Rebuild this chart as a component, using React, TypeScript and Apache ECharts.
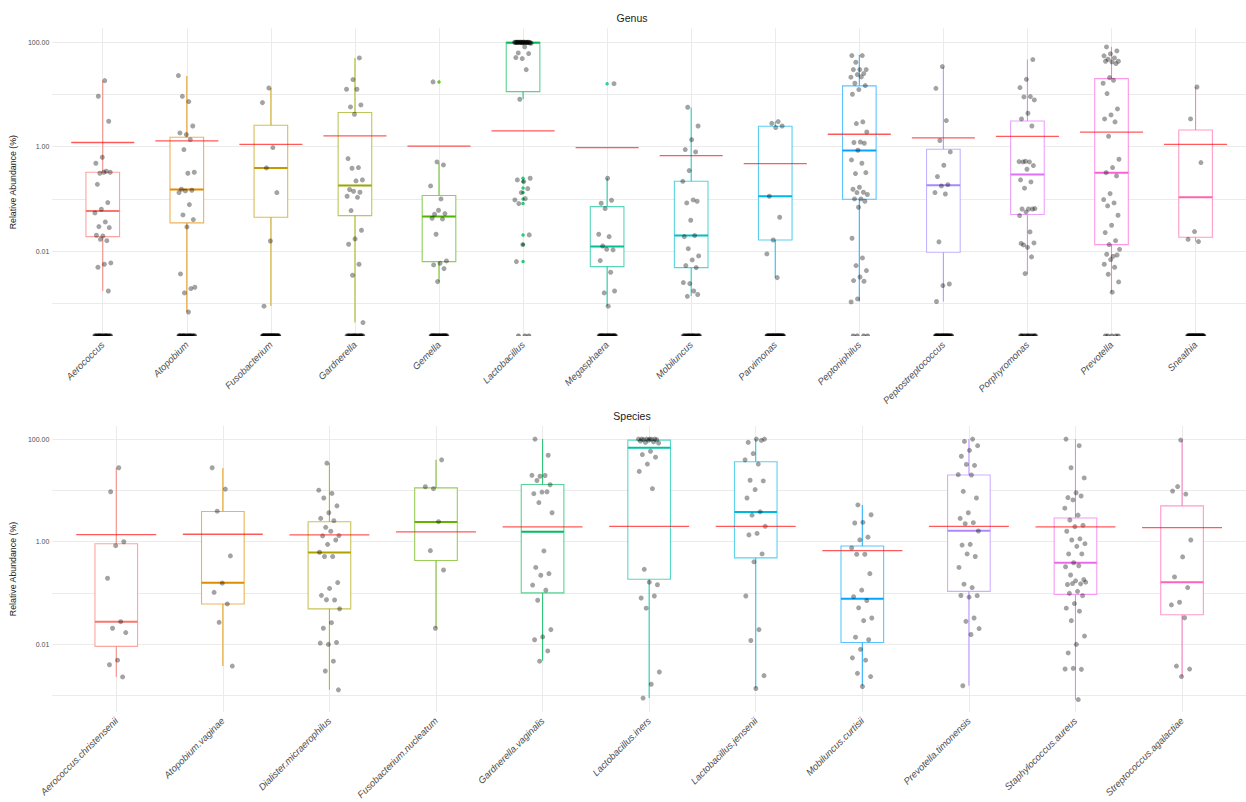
import React, { useEffect, useRef } from "react";
import * as echarts from "echarts";

// ---------------- Genus panel ----------------
const GENUS = [
  "Aerococcus", "Atopobium", "Fusobacterium", "Gardnerella", "Gemella", "Lactobacillus", "Megasphaera",
  "Mobiluncus", "Parvimonas", "Peptoniphilus", "Peptostreptococcus", "Porphyromonas", "Prevotella", "Sneathia",
];
const GENUS_COLORS = [
  "#F8766D", "#E38900", "#C49A00", "#99A800", "#53B400", "#00BC56", "#00C094",
  "#00BFC4", "#00B6EB", "#06A4FF", "#A58AFF", "#DF70F8", "#FB61D7", "#FF66A8",
];
// [lower whisker, Q1, median, Q3, upper whisker] in %
const GENUS_BOX = [
  [0.00172, 0.0189, 0.0587, 0.323, 18.2],
  [0.00069, 0.0346, 0.151, 1.51, 22.6],
  [0.00089, 0.0444, 0.392, 2.57, 13.3],
  [0.00043, 0.0478, 0.18, 4.5, 50],
  [0.0026, 0.00628, 0.0457, 0.116, 0.481],
  [8.2, 11.35, 98, 100, 100],
  [0.00089, 0.00504, 0.0122, 0.0711, 0.248],
  [0.00138, 0.00482, 0.0198, 0.217, 5.6],
  [0.0031, 0.0163, 0.112, 2.46, 3.02],
  [0.00108, 0.0982, 0.84, 14.6, 57],
  [0.00108, 0.0095, 0.182, 0.891, 33.7],
  [0.00365, 0.05, 0.292, 3.11, 46.6],
  [0.0016, 0.0133, 0.318, 20.1, 81.4],
  [0.0152, 0.0184, 0.107, 2.09, 13.9],
];
const GENUS_MEAN = [1.2, 1.29, 1.11, 1.61, 1.02, 2.0, 0.96, 0.675, 0.474, 1.73, 1.47, 1.58, 1.89, 1.11];
const GENUS_POINTS = [
  [18.4, 9.24, 3.07, 0.627, 0.481, 0.338, 0.309, 0.323, 0.323, 0.19, 0.0848, 0.0632, 0.0537, 0.0361, 0.0294, 0.0282, 0.0195, 0.0201, 0.0158, 0.0168, 0.00593, 0.00559, 0.0049, 0.00172],
  [23.0, 7.3, 9.2, 2.49, 1.7, 1.83, 1.36, 0.88, 0.323, 0.309, 0.153, 0.146, 0.142, 0.132, 0.0776, 0.0492, 0.0401, 0.029, 0.00365, 0.00191, 0.00158, 0.00203, 0.00068],
  [13.3, 6.98, 0.96, 0.392, 0.132, 0.0156, 0.00088],
  [50.1, 19.3, 12.6, 12.6, 5.77, 6.3, 4.18, 0.59, 0.397, 0.386, 0.231, 0.221, 0.151, 0.134, 0.14, 0.112, 0.107, 0.0596, 0.025, 0.0171, 0.0135, 0.00559, 0.00344, 0.000427],
  [17.4, 0.447, 0.51, 0.177, 0.0998, 0.0507, 0.0522, 0.0605, 0.0425, 0.0413, 0.021, 0.00647, 0.00583, 0.00542, 0.00461, 0.0026],
  [100, 100, 99.6, 99.2, 100, 98.7, 100, 99.4, 97.8, 100, 99.1, 100, 98.3, 100, 99.7, 100, 99.5, 98.9, 100, 99.8, 97.2, 100, 99.3, 98.6, 100, 95.5,
    81.4, 62.5, 60.7, 48.7, 50.8, 29.9, 8.09, 0.248, 0.214, 0.231, 0.157, 0.132, 0.0955, 0.101, 0.0813, 0.0204, 0.0133, 0.00628],
  [16.1, 0.248, 0.0824, 0.094, 0.0651, 0.021, 0.0189, 0.0125, 0.0105, 0.0108, 0.00656, 0.00393, 0.00158, 0.00172, 0.00088],
  [5.69, 2.49, 1.36, 0.88, 0.793, 0.348, 0.217, 0.0955, 0.0836, 0.09, 0.0389, 0.0189, 0.0198, 0.0111, 0.00807, 0.00676, 0.00527, 0.00482, 0.00238, 0.00249, 0.00172, 0.00136, 0.00147],
  [3.02, 2.8, 2.49, 2.32, 0.112, 0.0444, 0.0163, 0.0088, 0.0031],
  [55.6, 55.6, 41.4, 29.9, 29.9, 29.9, 25.1, 24.0, 21.4, 21.7, 16.4, 14.8, 12.4, 10.1, 2.98, 2.77, 1.91, 1.23, 1.2, 1.16, 0.853, 0.557, 0.481, 0.305, 0.318, 0.167, 0.153, 0.134, 0.132, 0.121, 0.0998, 0.0998, 0.09, 0.069, 0.0176, 0.00738, 0.00527, 0.00423, 0.00319, 0.00272, 0.00264, 0.00121, 0.00106],
  [34.2, 13.1, 3.16, 1.31, 0.793, 0.44, 0.267, 0.187, 0.177, 0.132, 0.124, 0.015, 0.00234, 0.00218, 0.00108],
  [46.6, 19.5, 13.5, 9.1, 8.97, 7.86, 4.36, 3.4, 2.49, 0.525, 0.517, 0.51, 0.51, 0.434, 0.369, 0.231, 0.211, 0.16, 0.0651, 0.064, 0.064, 0.064, 0.0562, 0.0478, 0.0233, 0.0131, 0.0143, 0.0118, 0.014, 0.00773, 0.0037],
  [81.4, 68.2, 60.0, 55.0, 50.1, 47.2, 43.3, 42.0, 43.3, 39.0, 21.0, 16.4, 18.7, 10.4, 5.28, 4.05, 3.4, 2.98, 1.58, 0.574, 0.397, 0.318, 0.275, 0.126, 0.0968, 0.0836, 0.0733, 0.0485, 0.0312, 0.0226, 0.0158, 0.0133, 0.0108, 0.00794, 0.00869, 0.0084, 0.00687, 0.00559, 0.0049, 0.0036, 0.00256, 0.00163],
  [13.9, 3.4, 0.495, 0.0236, 0.0168, 0.0152],
];
// samples with zero abundance (sit on the floor of the log axis)
const GENUS_ZEROS = [23, 24, 40, 23, 31, 3, 32, 24, 38, 4, 32, 16, 5, 41];
const GENUS_OUTLIERS = [
  [], [], [], [], [17.4],
  [0.248, 0.214, 0.161, 0.132, 0.0998, 0.0813, 0.0204, 0.0133, 0.00628],
  [16.1], [], [], [], [], [], [], [],
];

// ---------------- Species panel ----------------
const SPECIES = [
  "Aerococcus.christensenii", "Atopobium.vaginae", "Dialister.micraerophilus", "Fusobacterium.nucleatum",
  "Gardnerella.vaginalis", "Lactobacillus.iners", "Lactobacillus.jensenii", "Mobiluncus.curtisii",
  "Prevotella.timonensis", "Staphylococcus.aureus", "Streptococcus.agalactiae",
];
const SPECIES_COLORS = [
  "#F8766D", "#DB8E00", "#AEA200", "#64B200", "#00BD5C", "#00C1A7", "#00BADE", "#00A6FF", "#B385FF", "#EF67EB", "#FF63B6",
];
const SPECIES_BOX = [
  [0.00232, 0.00916, 0.0277, 0.916, 27.7],
  [0.00378, 0.0614, 0.158, 3.89, 27.3],
  [0.0013, 0.0492, 0.614, 2.46, 34],
  [0.0209, 0.431, 2.43, 11.2, 39.4],
  [0.00478, 0.101, 1.56, 13, 100],
  [0.0009, 0.186, 68, 95.6, 100],
  [0.0014, 0.485, 3.78, 36.1, 100],
  [0.00156, 0.0109, 0.0778, 0.826, 5.22],
  [0.00156, 0.108, 1.63, 20, 100],
  [0.00084, 0.0942, 0.389, 2.9, 100],
  [0.00236, 0.0378, 0.163, 5.0, 94.3],
];
const SPECIES_MEAN = [1.38, 1.4, 1.36, 1.56, 1.94, 2.0, 2.0, 0.671, 2.0, 1.94, 1.89];
const SPECIES_POINTS = [
  [27.7, 9.42, 1.0, 0.838, 0.194, 0.0277, 0.0206, 0.017, 0.00492, 0.00401, 0.00232],
  [27.7, 10.6, 3.94, 0.53, 0.156, 0.103, 0.0614, 0.0269, 0.00378],
  [34, 10.1, 8.75, 7.12, 5.0, 3.67, 2.85, 2.57, 1.91, 1.32, 1.6, 1.3, 1.08, 0.889, 0.624, 0.515, 0.515, 0.16, 0.123, 0.0902, 0.0733, 0.0741, 0.0492, 0.0265, 0.0206, 0.0109, 0.01, 0.0106, 0.00471, 0.00303, 0.0013],
  [39.4, 10.8, 11.8, 2.46, 0.671, 0.281, 0.0206],
  [100, 48.5, 18.9, 19.7, 19.5, 15.6, 12.9, 9.29, 8.63, 9.42, 5.79, 3.67, 0.662, 0.316, 0.239, 0.222, 0.143, 0.114, 0.0723, 0.0194, 0.014, 0.0123, 0.00745, 0.00471],
  [100, 100, 100, 100, 100, 99, 98, 97, 95, 91.6, 88, 86.3, 83.8, 57.9, 50, 44.4, 32.6, 23.5, 10.8, 0.29, 0.145, 0.163, 0.0802, 0.0875, 0.0507, 0.0029, 0.00167, 0.0009],
  [100, 100, 86.3, 94.3, 52.2, 39.4, 32.6, 15.8, 15.3, 10.4, 7.12, 3.83, 3.3, 2.0, 1.45, 1.36, 0.579, 0.406, 0.0875, 0.0194, 0.0119, 0.00246, 0.00138],
  [5.22, 3.36, 2.39, 2.32, 1.23, 1.09, 0.755, 0.57, 0.57, 0.239, 0.114, 0.085, 0.0713, 0.0515, 0.0326, 0.029, 0.0138, 0.0123, 0.00802, 0.00546, 0.00492, 0.00273, 0.00236, 0.00151],
  [100, 90.2, 74.4, 60.5, 46.4, 30.7, 32.1, 20.3, 20, 9.57, 7.12, 3.67, 2.85, 2.35, 2.25, 1.62, 0.889, 0.862, 0.515, 0.579, 0.316, 0.128, 0.149, 0.0889, 0.0835, 0.0896, 0.0326, 0.0281, 0.0203, 0.0156, 0.00156],
  [100, 74.4, 27.7, 17.5, 9.02, 7.23, 7.78, 6.52, 4.51, 3.3, 2.65, 2.09, 1.97, 1.6, 1.14, 1.08, 0.916, 0.813, 0.579, 0.579, 0.389, 0.326, 0.34, 0.225, 0.183, 0.173, 0.147, 0.151, 0.153, 0.163, 0.108, 0.0986, 0.0889, 0.0624, 0.0507, 0.0444, 0.029, 0.0145, 0.01, 0.00681, 0.00326, 0.00341, 0.00331, 0.00084],
  [95.7, 9.7, 8.5, 11.9, 1.08, 0.507, 0.206, 0.128, 0.0662, 0.0588, 0.033, 0.00378, 0.0033, 0.00236],
];
const SPECIES_ZEROS = SPECIES.map(() => 0);
const SPECIES_OUTLIERS = SPECIES.map(() => [] as number[]);

// log-axis extents of the two panels (%)
const GENUS_RANGE = [0.000236, 185];
const SPECIES_RANGE = [0.00048, 180];

const FONT = "'Liberation Sans', Arial, Helvetica, sans-serif";
const GRID_COLOR = "#EBEBEB";
const TEXT_GREY = "#4D4D4D";
const BOX_HALF = 0.2;
const MEAN_HALF = 0.375;

// horizontal spread of the jittered points, in category units (±0.1)
function jitter(cat: number, k: number): number {
  const t = ((k + 1) * 0.6180339887 + cat * 0.3819660113) % 1;
  return (t - 0.5) * 0.2;
}

function decadeLabel(v: number): string {
  const e = Math.log10(v);
  const r = Math.round(e);
  if (Math.abs(e - r) > 1e-6 || r % 2 !== 0) return "";
  return v.toFixed(2);
}

function panelAxes(idx: number, names: string[], range: number[]) {
  const ticks = names.map((_, i) => i);
  const xAxis = {
    type: "value",
    gridIndex: idx,
    min: -0.6,
    max: names.length - 0.4,
    axisLine: { show: false },
    axisTick: { show: false, customValues: ticks },
    axisLabel: {
      customValues: ticks,
      formatter: (v: number) => names[Math.round(v)] ?? "",
      rotate: 45,
      fontSize: 9.5,
      fontStyle: "italic",
      color: TEXT_GREY,
      fontFamily: FONT,
      margin: 7,
    },
    splitLine: { show: true, lineStyle: { color: GRID_COLOR, width: 1 } },
  };
  const yAxis = {
    type: "log",
    logBase: 10,
    gridIndex: idx,
    min: range[0],
    max: range[1],
    axisLine: { show: false },
    axisTick: { show: false },
    axisLabel: { formatter: decadeLabel, fontSize: 7, color: TEXT_GREY, fontFamily: FONT, margin: 3 },
    splitLine: { show: true, showMinLine: false, showMaxLine: false, lineStyle: { color: GRID_COLOR, width: 1 } },
    name: "Relative Abundance (%)",
    nameLocation: "middle",
    nameRotate: 90,
    nameGap: 25,
    nameTextStyle: { fontSize: 8.8, color: "#1A1A1A", fontFamily: FONT },
  };
  return { xAxis, yAxis };
}

function panelSeries(
  idx: number,
  colors: string[],
  boxes: number[][],
  means: number[],
  points: number[][],
  zeros: number[],
  outliers: number[][],
  floor: number,
) {
  const axes = { xAxisIndex: idx, yAxisIndex: idx };
  const list: any[] = [];

  list.push({
    type: "custom",
    ...axes,
    z: 2,
    silent: true,
    data: boxes.map((b, i) => [i, ...b]),
    encode: { x: 0, y: [1, 2, 3, 4, 5] },
    renderItem: (params: any, api: any) => {
      const i = api.value(0);
      const c = colors[params.dataIndex];
      const lo = api.coord([i, api.value(1)]);
      const q1 = api.coord([i, api.value(2)]);
      const md = api.coord([i, api.value(3)]);
      const q3 = api.coord([i, api.value(4)]);
      const hi = api.coord([i, api.value(5)]);
      const xl = api.coord([i - BOX_HALF, api.value(3)])[0];
      const xr = api.coord([i + BOX_HALF, api.value(3)])[0];
      const line = { stroke: c, lineWidth: 1.1, strokeOpacity: 0.65 };
      return {
        type: "group",
        children: [
          { type: "line", shape: { x1: q1[0], y1: q1[1], x2: lo[0], y2: lo[1] }, style: { ...line, strokeOpacity: 0.8 } },
          { type: "line", shape: { x1: q3[0], y1: q3[1], x2: hi[0], y2: hi[1] }, style: { ...line, strokeOpacity: 0.8 } },
          { type: "rect", shape: { x: xl, y: q3[1], width: xr - xl, height: q1[1] - q3[1] }, style: { ...line, fill: "#FFFFFF" } },
          { type: "line", shape: { x1: xl, y1: md[1], x2: xr, y2: md[1] }, style: { stroke: c, lineWidth: 2 } },
        ],
      };
    },
  });

  list.push({
    type: "scatter",
    ...axes,
    z: 3,
    silent: true,
    symbolSize: 3.5,
    data: outliers.flatMap((vals, c) => vals.map((v) => [c, v])),
    itemStyle: { color: (p: any) => colors[Math.round(p.value[0])] },
  });

  list.push({
    type: "scatter",
    ...axes,
    z: 4,
    silent: true,
    symbolSize: 5,
    data: points.flatMap((vals, c) => vals.map((v, k) => [c + jitter(c, k), v])),
    itemStyle: { color: "rgba(0,0,0,0.45)" },
  });

  list.push({
    type: "custom",
    ...axes,
    z: 4,
    clip: true,
    silent: true,
    data: zeros.flatMap((n, c) => Array.from({ length: n }, (_, k) => [c + jitter(c, k + 60), floor])),
    encode: { x: 0, y: 1 },
    renderItem: (_params: any, api: any) => {
      const pt = api.coord([api.value(0), api.value(1)]);
      return { type: "circle", shape: { cx: pt[0], cy: pt[1], r: 2.5 }, style: { fill: "rgba(0,0,0,0.45)" } };
    },
  });

  list.push({
    type: "custom",
    ...axes,
    z: 5,
    silent: true,
    data: means.map((m, i) => [i, m]),
    encode: { x: 0, y: 1 },
    renderItem: (_params: any, api: any) => {
      const i = api.value(0);
      const a = api.coord([i - MEAN_HALF, api.value(1)]);
      const b = api.coord([i + MEAN_HALF, api.value(1)]);
      return {
        type: "line",
        shape: { x1: a[0], y1: a[1], x2: b[0], y2: b[1] },
        style: { stroke: "#FF0000", strokeOpacity: 0.65, lineWidth: 1.3 },
      };
    },
  });

  return list;
}

export default function App() {
  const ref = useRef<HTMLDivElement>(null);

  useEffect(() => {
    if (!ref.current) return;
    const chart = echarts.init(ref.current, undefined, { renderer: "svg" });
    const top = panelAxes(0, GENUS, GENUS_RANGE);
    const bottom = panelAxes(1, SPECIES, SPECIES_RANGE);

    chart.setOption({
      animation: false,
      backgroundColor: "#FFFFFF",
      textStyle: { fontFamily: FONT },
      grid: [
        { left: 49.5, top: 28.3, width: 1203, height: 307.7 },
        { left: 49.5, top: 426, width: 1203, height: 290 },
      ],
      xAxis: [top.xAxis, bottom.xAxis],
      yAxis: [top.yAxis, bottom.yAxis],
      graphic: [
        {
          type: "text",
          x: 632,
          y: 17.7,
          style: { text: "Genus", fontSize: 10.5, fill: "#1A1A1A", fontFamily: FONT, align: "center", verticalAlign: "middle" },
        },
        {
          type: "text",
          x: 632,
          y: 415.7,
          style: { text: "Species", fontSize: 10.5, fill: "#1A1A1A", fontFamily: FONT, align: "center", verticalAlign: "middle" },
        },
      ],
      series: [
        ...panelSeries(0, GENUS_COLORS, GENUS_BOX, GENUS_MEAN, GENUS_POINTS, GENUS_ZEROS, GENUS_OUTLIERS, GENUS_RANGE[0]),
        ...panelSeries(1, SPECIES_COLORS, SPECIES_BOX, SPECIES_MEAN, SPECIES_POINTS, SPECIES_ZEROS, SPECIES_OUTLIERS, SPECIES_RANGE[0]),
      ],
    });

    return () => chart.dispose();
  }, []);

  return (
    <div
      ref={ref}
      style={{ position: "absolute", left: 0, top: 0, width: 1246, height: 802, background: "#FFFFFF" }}
    />
  );
}
